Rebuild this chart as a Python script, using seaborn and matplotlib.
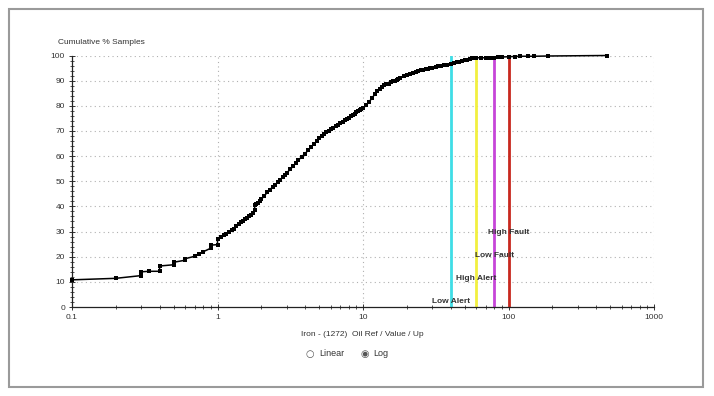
import matplotlib
matplotlib.use("Agg")
import matplotlib.pyplot as plt
import matplotlib.ticker as mticker
from matplotlib.patches import Rectangle
import seaborn as sns
import pandas as pd

# cumulative distribution
iron = [0.1, 0.2, 0.3, 0.3, 0.34, 0.4, 0.4, 0.5, 0.5, 0.6, 0.6, 0.7, 0.75, 0.8,
        0.9, 0.9, 1.0, 1.0, 1.05, 1.1, 1.15, 1.2, 1.25, 1.3, 1.35, 1.4, 1.45,
        1.5, 1.55, 1.6, 1.65, 1.7, 1.75, 1.8, 1.8, 1.85, 1.9, 1.95, 2.0, 2.1,
        2.2, 2.3, 2.4, 2.5, 2.6, 2.7, 2.8, 2.9, 3.0, 3.15, 3.3, 3.45, 3.6, 3.8,
        4.0, 4.2, 4.4, 4.6, 4.8, 5.0, 5.2, 5.4, 5.6, 5.8, 6.0, 6.25, 6.5, 6.75,
        7.0, 7.25, 7.5, 7.75, 8.0, 8.25, 8.5, 8.75, 9.0, 9.25, 9.5, 9.75, 10,
        10.5, 11, 11.5, 12, 12.5, 13, 13.5, 14, 14.5, 15, 15.5, 16, 16.5, 17,
        17.5, 18, 19, 20, 21, 22, 23, 24, 25, 26, 27, 28, 29, 30, 31.5, 33,
        34.5, 36, 38, 40, 42, 44, 46, 48, 50, 52, 54, 56, 58, 60, 65, 70, 75,
        80, 85, 90, 100, 110, 120, 137, 150, 188, 473]
cum_pct = [10.8, 11.4, 12.5, 14.0, 14.2, 14.2, 16.3, 16.8, 17.8, 18.6, 19.2, 20.2,
           21.2, 22.0, 23.4, 24.6, 24.8, 27.0, 27.8, 28.7, 29.2, 29.8, 30.5, 31.2,
           32.2, 33.0, 33.6, 34.2, 34.8, 35.3, 36.0, 36.7, 37.4, 38.5, 40.6, 41.0,
           41.5, 42.2, 42.8, 44.2, 45.6, 46.7, 47.8, 48.7, 49.6, 50.6, 51.6, 52.5,
           53.4, 54.7, 55.9, 57.2, 58.4, 59.8, 61.0, 62.3, 63.6, 64.8, 66.0, 67.0,
           67.8, 68.6, 69.4, 70.0, 70.6, 71.3, 72.0, 72.5, 73.0, 73.6, 74.2, 74.8,
           75.3, 75.8, 76.3, 76.9, 77.4, 77.9, 78.3, 78.7, 79.0, 80.2, 81.5, 83.0,
           84.5, 85.8, 86.8, 87.6, 88.2, 88.5, 88.8, 89.3, 89.7, 90.0, 90.4, 90.8,
           91.2, 91.8, 92.4, 92.8, 93.2, 93.6, 93.9, 94.2, 94.4, 94.6, 94.8, 95.0,
           95.2, 95.4, 95.7, 96.0, 96.2, 96.4, 96.7, 97.0, 97.3, 97.6, 98.0, 98.2,
           98.4, 98.6, 98.9, 99.0, 99.1, 99.1, 99.1, 99.2, 99.2, 99.3, 99.4, 99.5,
           99.6, 99.7, 99.7, 99.7, 99.8, 100.0]

limit_names = ["Low Alert", "High Alert", "Low Fault", "High Fault"]
limit_values = [40, 60, 80, 100]
limit_colors = ["#3fdde6", "#f2f040", "#c645d8", "#c8281e"]
label_heights = [2.2, 11.3, 20.4, 29.5]

df = pd.DataFrame({"iron": iron, "pct": cum_pct})

sns.set_theme(style="white")
plt.rcParams["font.family"] = ["Liberation Sans", "DejaVu Sans"]

fig = plt.figure(figsize=(7.14, 3.96), dpi=100)
ax = fig.add_axes([72 / 714, 1 - 307 / 396, 582 / 714, 251.5 / 396])

for v in [1, 10, 100, 1000]:
    ax.axvline(v, color="#b0b0b0", lw=0.8, ls=(0, (1, 3)), zorder=0)
for h in range(10, 101, 10):
    ax.axhline(h, color="#b0b0b0", lw=0.8, ls=(0, (1, 3)), zorder=0)

for val, col in zip(limit_values, limit_colors):
    ax.plot([val, val], [0, 100], color=col, lw=2.0, zorder=2)

sns.lineplot(data=df, x="iron", y="pct", ax=ax, estimator=None, sort=False,
             color="black", lw=1.1, marker="s", markersize=3.5,
             markeredgewidth=0, zorder=3, clip_on=False)

for name, val, h in zip(limit_names, limit_values, label_heights):
    ax.text(val, h, name, ha="center", va="center", fontsize=6,
            fontweight="bold", color="#333333", zorder=4)

ax.set_xscale("log")
ax.set_xlim(0.1, 1000)
ax.set_ylim(0, 100)
ax.xaxis.set_major_locator(mticker.FixedLocator([0.1, 1, 10, 100, 1000]))
ax.xaxis.set_major_formatter(mticker.FixedFormatter(["0.1", "1", "10", "100", "1000"]))
ax.xaxis.set_minor_locator(mticker.LogLocator(base=10, subs=range(2, 10)))
ax.xaxis.set_minor_formatter(mticker.NullFormatter())
ax.yaxis.set_major_locator(mticker.MultipleLocator(10))
ax.yaxis.set_minor_locator(mticker.MultipleLocator(2))
ax.tick_params(which="major", direction="inout", length=4, width=0.7,
               labelsize=6, colors="#333333", pad=3, bottom=True, left=True)
ax.tick_params(which="minor", direction="inout", length=3, width=0.6,
               colors="#333333", bottom=True, left=True)
ax.set_xlabel("")
ax.set_ylabel("")
for s in ["top", "right"]:
    ax.spines[s].set_visible(False)
for s in ["left", "bottom"]:
    ax.spines[s].set_color("#222222")
    ax.spines[s].set_linewidth(0.9)

fig.text(58 / 714, 1 - 42 / 396, "Cumulative % Samples", fontsize=6,
         color="#333333", va="center")
fig.text(362 / 714, 1 - 334 / 396, "Iron - (1272)  Oil Ref / Value / Up",
         fontsize=6, color="#333333", ha="center", va="center")
fig.text(310 / 714, 1 - 354 / 396, "○", fontsize=7, color="#555555",
         ha="center", va="center", family="DejaVu Sans")
fig.text(319 / 714, 1 - 354 / 396, "Linear", fontsize=6.5, color="#333333",
         va="center")
fig.text(365 / 714, 1 - 354 / 396, "◉", fontsize=7, color="#555555",
         ha="center", va="center", family="DejaVu Sans")
fig.text(373 / 714, 1 - 354 / 396, "Log", fontsize=6.5, color="#333333",
         va="center")

fig.patches.append(Rectangle((9 / 714, 1 - 387 / 396), 694 / 714, 378 / 396,
                             transform=fig.transFigure, fill=False,
                             edgecolor="#9a9a9a", lw=1.5))

fig.savefig("out.png", dpi=100)
